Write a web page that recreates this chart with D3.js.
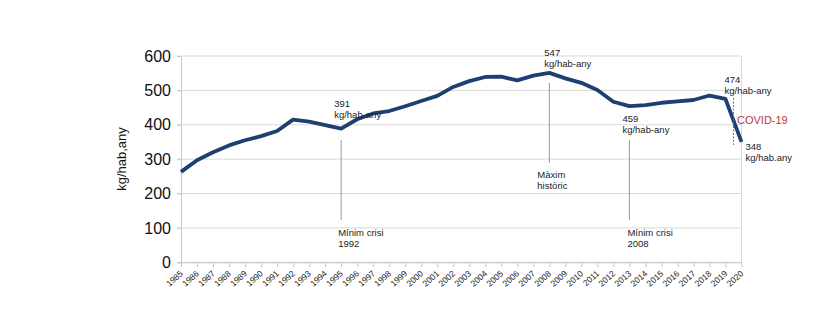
<!DOCTYPE html>
<html><head><meta charset="utf-8">
<script src="https://cdn.jsdelivr.net/npm/d3@7"></script>
<style>body{margin:0;background:#fff;} svg{display:block;font-family:"Liberation Sans",Arial,sans-serif;}</style>
</head><body>
<svg id="c" width="828" height="334"></svg>
<script>
const years = d3.range(1985, 2021);
const values = [263,297,320,340,355,367,382,415,409,399,389,416,433,440,454,469,484,510,527,539,540,529,543,551,535,522,501,467,454,457,464,468,472,485,475,350];
const yTicks = [0,100,200,300,400,500,600];
const annotations = [
  {year:1995, lines:["391","kg/hab-any"], label:["Mínim crisi","1992"]},
  {year:2008, lines:["547","kg/hab-any"], label:["Màxim","històric"]},
  {year:2013, lines:["459","kg/hab-any"], label:["Mínim crisi","2008"]}
];

const svg = d3.select("#c");
const x = d3.scaleLinear().domain([1985,2020]).range([181,741.5]);
const y = d3.scaleLinear().domain([0,600]).range([262.3,56]);

// gridlines
svg.append("g").selectAll("line").data(yTicks).join("line")
  .attr("x1",177).attr("x2",741.5).attr("y1",d=>y(d)).attr("y2",d=>y(d))
  .attr("stroke","#d9d9d9").attr("stroke-width",1);
// right border
svg.append("line").attr("x1",741.5).attr("x2",741.5).attr("y1",y(600)).attr("y2",y(0)).attr("stroke","#d9d9d9");

// y axis
const ya = svg.append("g").attr("transform","translate(181,0)")
  .call(d3.axisLeft(y).tickValues(yTicks).tickSize(4).tickPadding(6));
ya.select(".domain").attr("stroke","#c8c8c8");
ya.selectAll(".tick line").attr("stroke","#c8c8c8");
ya.selectAll("text").attr("font-size",16).attr("fill","#111").attr("font-family","Liberation Sans, Arial, sans-serif");

// x axis
const xa = svg.append("g").attr("transform","translate(0,262.3)")
  .call(d3.axisBottom(x).tickValues(years).tickFormat(d3.format("d")).tickSize(5).tickSizeOuter(0));
xa.select(".domain").attr("stroke","#c8c8c8");
xa.selectAll(".tick line").attr("stroke","#c8c8c8");
xa.selectAll("text").attr("font-size",8.5).attr("fill","#222")
  .attr("text-anchor","end").attr("dy",0).attr("y",0)
  .attr("transform","translate(2,12) rotate(-42)")
  .attr("font-family","Liberation Sans, Arial, sans-serif");

// y title
svg.append("text").attr("transform","translate(126,159) rotate(-90)")
  .attr("text-anchor","middle").attr("font-size",13).attr("fill","#111").text("kg/hab,any");

// line
svg.append("path").datum(values)
  .attr("d", d3.line().x((d,i)=>x(years[i])).y(d=>y(d)))
  .attr("fill","none").attr("stroke","#1e3f72").attr("stroke-width",3.8).attr("stroke-linejoin","round");

// annotations
const aConf = {
  1995:{tx:-7, ty1:107, l1:140, l2:220, lx:-3, ly:236},
  2008:{tx:-5, ty1:56, l1:83, l2:163, lx:-12, ly:178},
  2013:{tx:-7, ty1:122, l1:140, l2:220, lx:-2, ly:236}
};
annotations.forEach(a=>{
  const c = aConf[a.year], xx = x(a.year);
  svg.append("line").attr("x1",xx).attr("x2",xx).attr("y1",c.l1).attr("y2",c.l2)
    .attr("stroke","#8a9aae").attr("stroke-width",1);
  a.lines.forEach((t,i)=>svg.append("text").attr("x",xx+c.tx).attr("y",c.ty1+i*10.5)
    .attr("font-size",9.5).attr("fill","#222").text(t));
  a.label.forEach((t,i)=>svg.append("text").attr("x",xx+c.lx).attr("y",c.ly+i*10.5)
    .attr("font-size",9.5).attr("fill","#222").text(t));
});
// 2019 / 2020 labels
[["474","kg/hab-any",x(2019)-1,83],["348","kg/hab.any",x(2020)+4,150]].forEach(([a,b,xx,yy])=>{
  svg.append("text").attr("x",xx).attr("y",yy).attr("font-size",9.5).attr("fill","#222").text(a);
  svg.append("text").attr("x",xx).attr("y",yy+10.5).attr("font-size",9.5).attr("fill","#222").text(b);
});
// COVID
const cx = x(2019.5);
svg.append("line").attr("x1",cx).attr("x2",cx).attr("y1",98).attr("y2",145)
  .attr("stroke","#c0504d").attr("stroke-width",1).attr("stroke-dasharray","2,1.5");
svg.append("text").attr("x",cx+3.5).attr("y",123.5).attr("font-size",11).attr("fill","#b03a36").text("COVID-19");
</script>
</body></html>
